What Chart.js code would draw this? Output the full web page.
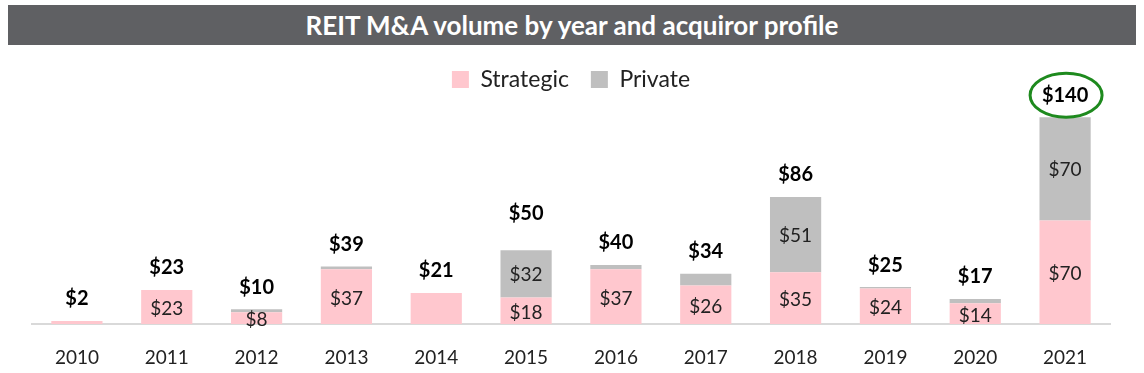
<!DOCTYPE html>
<html>
<head>
<meta charset="utf-8">
<script src="https://cdn.jsdelivr.net/npm/chart.js@4/dist/chart.umd.min.js"></script>
<style>
  html, body { margin: 0; padding: 0; background: #fff; }
  #wrap { position: relative; width: 1144px; height: 373px; }
  #title {
    position: absolute; left: 8px; top: 5px; width: 1128px; height: 40px;
    background: #5f6063; color: #fff; font: bold 26px Lato, sans-serif;
    text-align: center; line-height: 40px;
  }
  canvas { position: absolute; left: 0; top: 0; }
</style>
</head>
<body>
<div id="wrap">
  <canvas id="chart" width="1144" height="373"></canvas>
  <div id="title">REIT M&amp;A volume by year and acquiror profile</div>
</div>
<script>
const years = ['2010', '2011', '2012', '2013', '2014', '2015', '2016', '2017', '2018', '2019', '2020', '2021'];
const strategic = [2, 23, 8, 37, 21, 18, 37, 26, 35, 24, 14, 70];
const privateVol = [0, 0, 2, 2, 0, 32, 3, 8, 51, 1, 3, 70];
// years where the pink segment carries no printed value
const hideInside = ['2010', '2014'];

const totals = strategic.map((v, i) => v + privateVol[i]);

const barLabels = {
  id: 'barLabels',
  afterDatasetsDraw(chart) {
    const ctx = chart.ctx;
    const metaS = chart.getDatasetMeta(0);
    const metaP = chart.getDatasetMeta(1);
    ctx.save();
    ctx.textAlign = 'center';
    ctx.textBaseline = 'middle';

    // values inside the segments
    ctx.font = '19px Lato, sans-serif';
    ctx.fillStyle = '#222';
    years.forEach((yr, i) => {
      const s = metaS.data[i];
      if (!hideInside.includes(yr)) {
        ctx.fillText('$' + strategic[i], s.x, (s.y + s.base) / 2 + 2);
      }
      if (privateVol[i] >= 10) {
        const p = metaP.data[i];
        ctx.fillText('$' + privateVol[i], p.x, (p.y + p.base) / 2 + 1);
      }
    });

    // totals above the stacks
    ctx.font = 'bold 20px Lato, sans-serif';
    ctx.fillStyle = '#000';
    years.forEach((yr, i) => {
      const p = metaP.data[i];
      const lift = yr === '2015' ? 37 : 22;
      ctx.fillText('$' + totals[i], p.x, p.y - lift);
      if (yr === '2021') {
        ctx.strokeStyle = '#1e8a1e';
        ctx.lineWidth = 3;
        ctx.beginPath();
        ctx.ellipse(p.x + 1, p.y - lift, 36, 22, 0, 0, Math.PI * 2);
        ctx.stroke();
      }
    });
    ctx.restore();
  }
};

new Chart(document.getElementById('chart'), {
  type: 'bar',
  data: {
    labels: years,
    datasets: [
      { label: 'Strategic', data: strategic, backgroundColor: '#ffc7ce', borderWidth: 0 },
      { label: 'Private', data: privateVol, backgroundColor: '#bfbfbf', borderWidth: 0 }
    ]
  },
  options: {
    responsive: false,
    animation: false,
    layout: { padding: { top: 46, bottom: 0, left: 32, right: 34 } },
    datasets: { bar: { categoryPercentage: 1, barPercentage: 0.57 } },
    plugins: {
      tooltip: { enabled: false },
      legend: {
        position: 'top',
        labels: {
          boxWidth: 17, boxHeight: 17, padding: 22,
          color: '#222', font: { family: 'Lato', size: 23 }
        }
      }
    },
    scales: {
      x: {
        stacked: true,
        grid: { display: false },
        border: { color: '#d9d9d9', width: 2 },
        ticks: { color: '#222', font: { family: 'Lato', size: 19 }, padding: 14 },
        afterFit(scale) { scale.height = 49; }
      },
      y: {
        stacked: true,
        display: false,
        min: 0,
        max: 151
      }
    }
  },
  plugins: [barLabels]
});
</script>
</body>
</html>
